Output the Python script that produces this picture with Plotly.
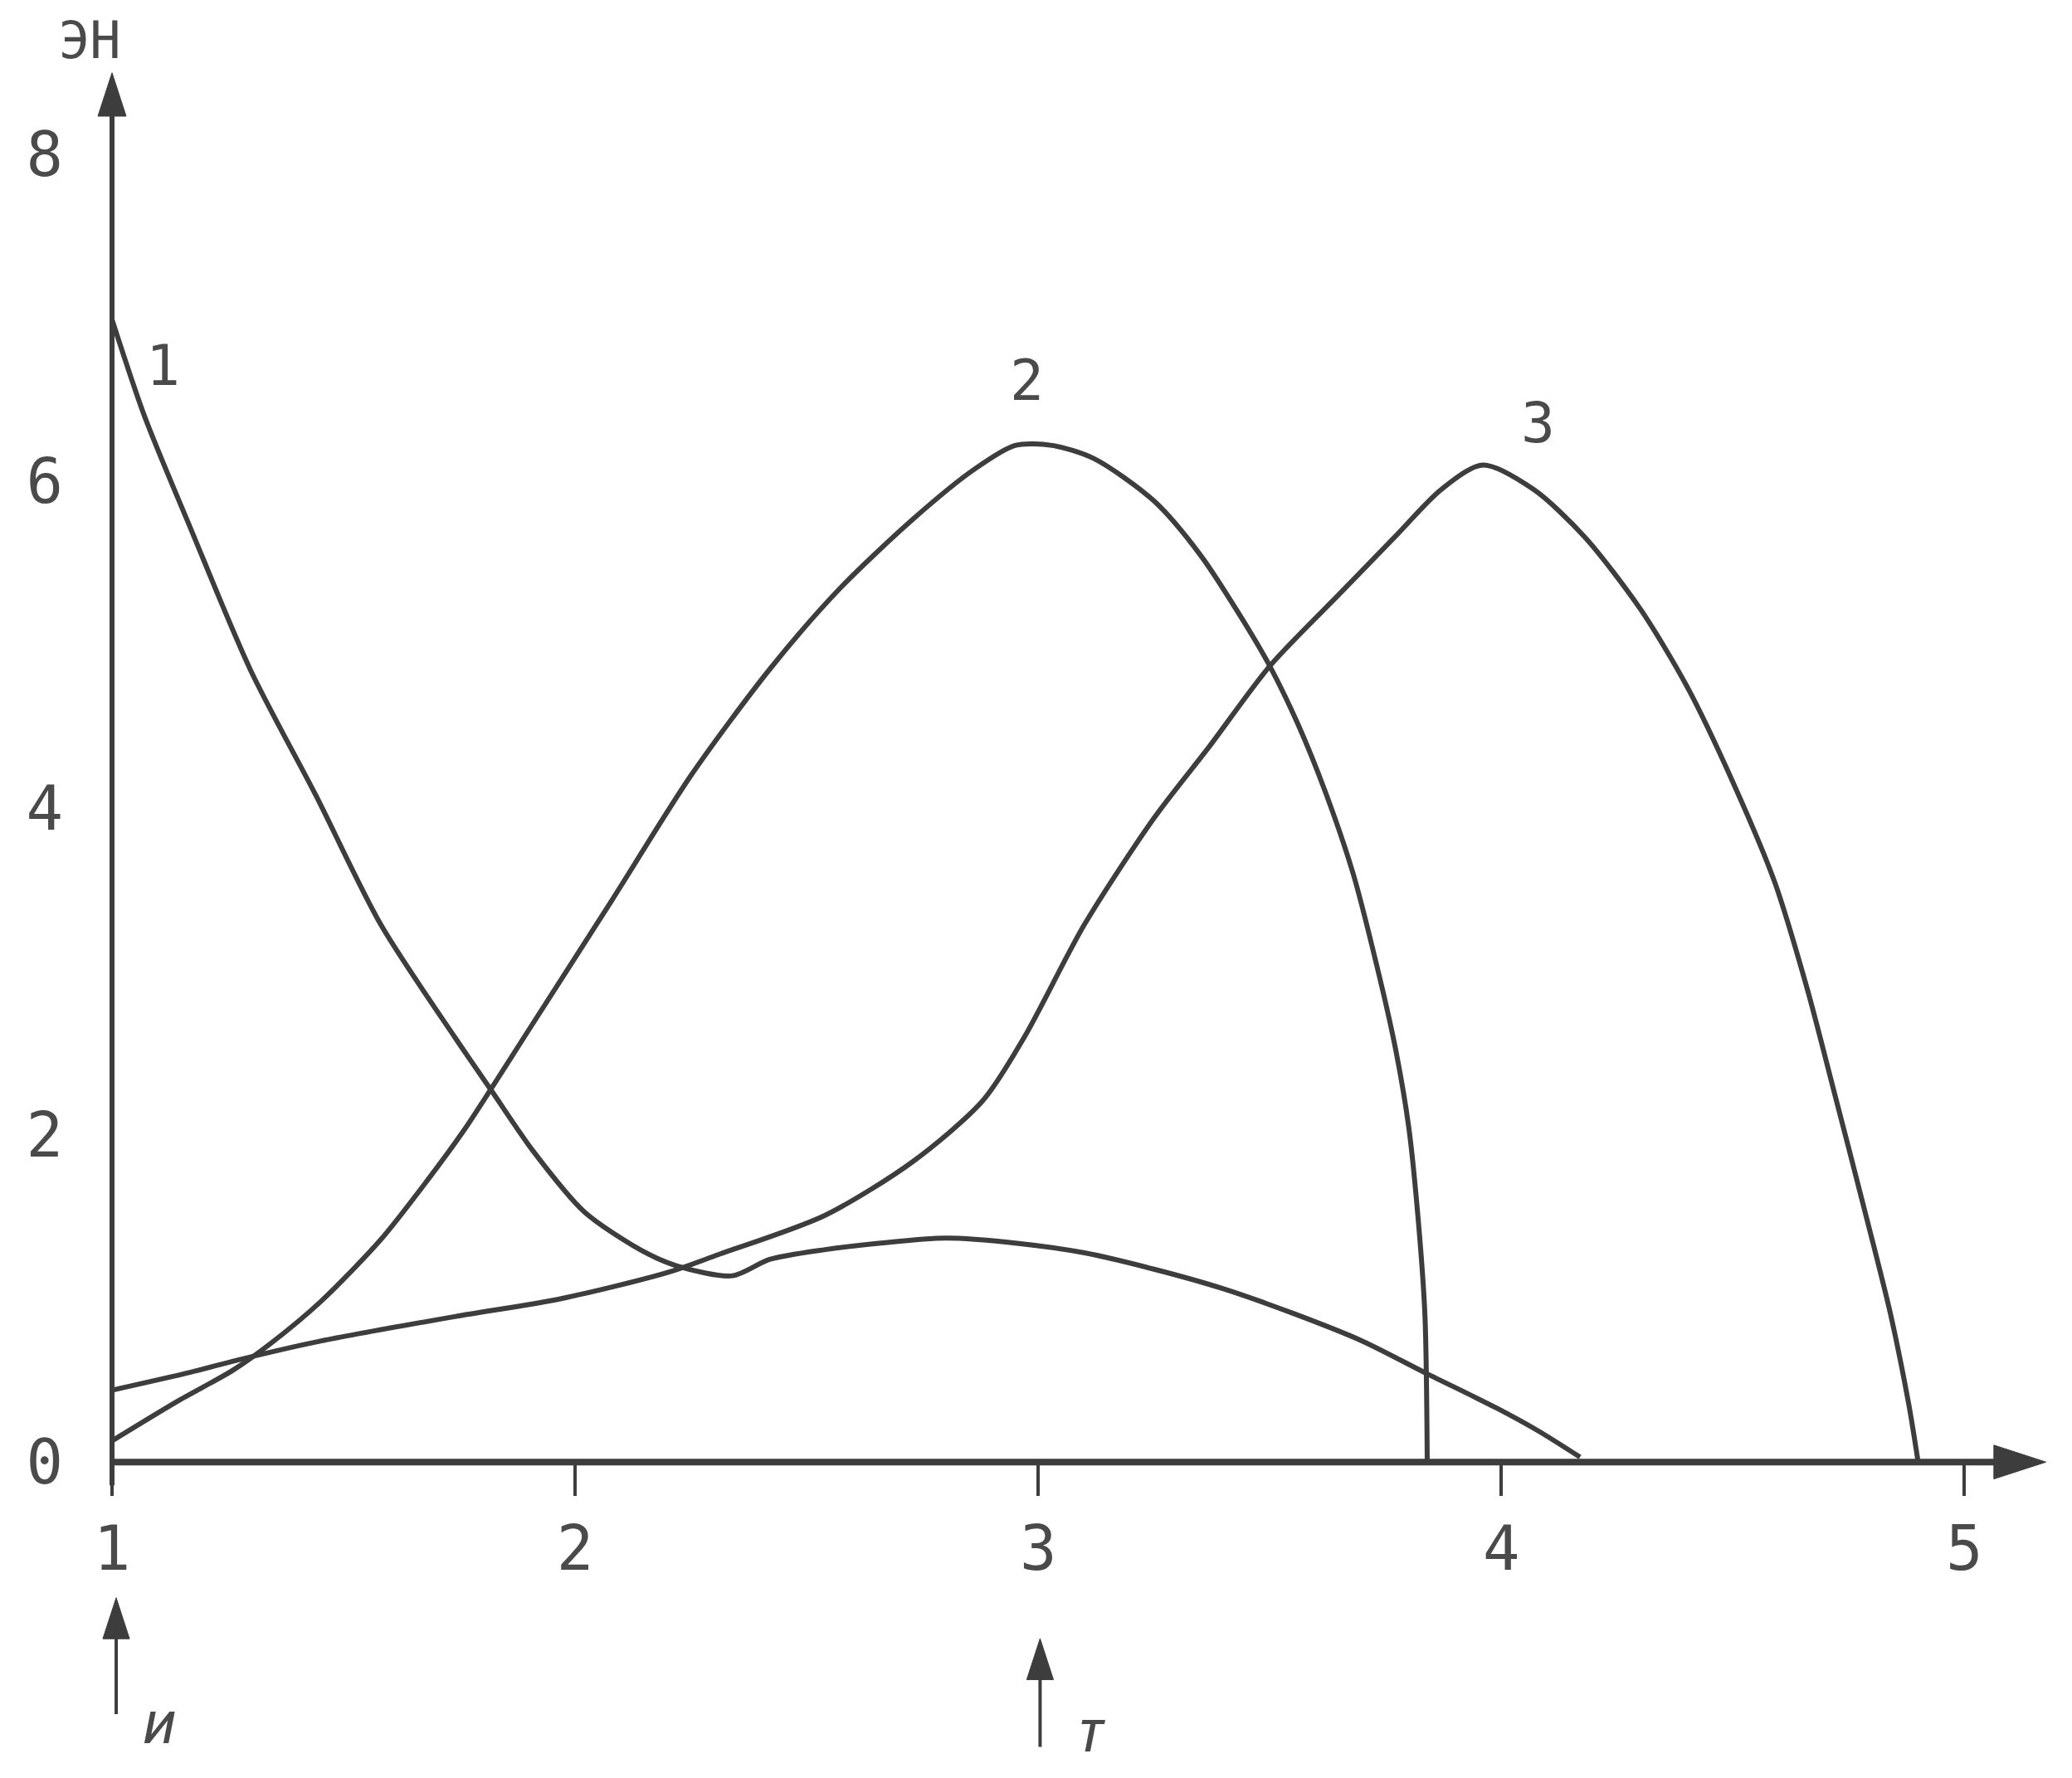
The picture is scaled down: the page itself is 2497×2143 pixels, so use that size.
import plotly.graph_objects as go

# ---------------- data ----------------
x1 = [1.00, 1.07, 1.17, 1.30, 1.44, 1.58, 1.74, 1.82, 1.91, 2.02, 2.14, 2.22, 2.34,
      2.42, 2.54, 2.66, 2.80, 2.95, 3.10, 3.25, 3.40, 3.55, 3.70, 3.84, 3.99, 4.08, 4.17]
y1 = [6.99, 6.40, 5.71, 4.84, 4.08, 3.29, 2.60, 2.27, 1.90, 1.53, 1.30, 1.20, 1.14,
      1.24, 1.30, 1.34, 1.37, 1.34, 1.28, 1.18, 1.06, 0.91, 0.74, 0.54, 0.33, 0.19, 0.03]

x2 = [1.00, 1.14, 1.26, 1.34, 1.45, 1.58, 1.68, 1.76, 1.82, 1.89, 2.08, 2.25, 2.42, 2.57,
      2.73, 2.86, 2.95, 3.03, 3.12, 3.25, 3.35, 3.44, 3.50, 3.56, 3.62, 3.68, 3.73, 3.77,
      3.80, 3.82, 3.835, 3.84]
y2 = [0.13, 0.37, 0.56, 0.72, 0.98, 1.36, 1.72, 2.03, 2.29, 2.60, 3.44, 4.20, 4.85, 5.34,
      5.77, 6.07, 6.22, 6.22, 6.14, 5.88, 5.55, 5.16, 4.87, 4.52, 4.10, 3.60, 3.05, 2.55,
      2.05, 1.50, 0.90, 0.00]

x3 = [1.00, 1.17, 1.28, 1.45, 1.74, 1.97, 2.20, 2.31, 2.54, 2.73, 2.88, 2.97, 3.10, 3.25,
      3.37, 3.50, 3.65, 3.77, 3.87, 3.96, 4.07, 4.18, 4.30, 4.40, 4.50, 4.59, 4.66, 4.72,
      4.78, 4.84, 4.88, 4.90]
y3 = [0.44, 0.55, 0.63, 0.74, 0.89, 1.00, 1.16, 1.27, 1.51, 1.84, 2.21, 2.60, 3.29, 3.94,
      4.38, 4.87, 5.31, 5.66, 5.95, 6.10, 5.95, 5.66, 5.22, 4.75, 4.16, 3.55, 2.90, 2.25,
      1.59, 0.91, 0.35, 0.00]

curve_names = ["1", "2", "3"]
curve_label_x = [1.11, 2.975, 4.08]
curve_label_y = [6.71, 6.62, 6.36]

x_ticks = [1, 2, 3, 4, 5]
y_ticks = [0, 2, 4, 6, 8]

y_title = "ЭН"
y_title_x = 0.952
y_title_y = 8.70

marker_names = ["и", "т"]
marker_x = [1.009, 3.004]
marker_tip_y = [-0.83, -1.08]
marker_tail_y = [-1.55, -1.75]
marker_label_x = [1.102, 3.113]
marker_label_y = [-1.60, -1.65]

x_axis_tip = 5.176
y_axis_tip = 8.50
y_axis_bottom = -0.15

# ---------------- layout geometry ----------------
X0, X1 = 1.0, 5.2
Y1 = 8.6
PX_X = 558.0     # pixels per x unit
PX_Y = 197.0     # pixels per y unit
W, H = 2481, 2127
ML, MT, MB = 127, 60, 0
PW = (X1 - X0) * PX_X
MR = W - ML - PW
PH = H - MT - MB
Y0 = Y1 - PH / PX_Y          # bottom of plotting range (negative)

LINE = "#3d3d3d"
TXT = "#4a4a4a"
FONT = "DejaVu Sans Mono"

fig = go.Figure()

for xs, ys in [(x1, y1), (x2, y2), (x3, y3)]:
    fig.add_trace(go.Scatter(
        x=xs, y=ys, mode="lines",
        line=dict(color=LINE, width=6, shape="spline", smoothing=0.8),
        showlegend=False, hoverinfo="skip",
    ))

head_y, head_x, head_m = 55, 66, 52


def shaft(xa, ya, xb, yb, width):
    fig.add_annotation(x=xb, y=yb, ax=xa, ay=ya, xref="x", yref="y", axref="x", ayref="y",
                       text="", showarrow=True, arrowhead=0, arrowwidth=width,
                       arrowcolor=LINE)


# axes (shafts)
shaft(X0, y_axis_bottom, X0, y_axis_tip - 0.45 * head_y * 0.95 / PX_Y, 6)
shaft(X0, 0, x_axis_tip - 0.45 * head_x * 0.95 / PX_X, 0, 8)
# arrows below the axis
for mx, tip, tail in zip(marker_x, marker_tip_y, marker_tail_y):
    shaft(mx, tail, mx, tip - 0.45 * head_m * 0.95 / PX_Y, 4)

# arrow heads
fig.add_trace(go.Scatter(
    x=[X0, x_axis_tip] + marker_x,
    y=[y_axis_tip, 0] + marker_tip_y,
    mode="markers",
    marker=dict(symbol="arrow", angle=[0, 90, 0, 0], size=[head_y, head_x, head_m, head_m],
                color=LINE, opacity=1, line=dict(width=1, color=LINE)),
    cliponaxis=False, showlegend=False, hoverinfo="skip",
))

# curve labels
for name, lx, ly in zip(curve_names, curve_label_x, curve_label_y):
    fig.add_annotation(x=lx, y=ly, xref="x", yref="y", text=name, showarrow=False,
                       xanchor="center", yanchor="middle",
                       font=dict(family=FONT, size=68, color=TXT))

# y title (above the plotting range -> domain coordinates)
fig.add_annotation(x=(y_title_x - X0) / (X1 - X0), y=(y_title_y - Y0) / (Y1 - Y0),
                   xref="x domain", yref="y domain", text=y_title, showarrow=False,
                   xanchor="center", yanchor="middle",
                   font=dict(family=FONT, size=62, color=TXT))

# labels under marker arrows
for name, lx, ly in zip(marker_names, marker_label_x, marker_label_y):
    fig.add_annotation(x=lx, y=ly, xref="x", yref="y",
                       text="<i>" + name + "</i>", showarrow=False,
                       xanchor="center", yanchor="middle",
                       font=dict(family=FONT, size=70, color=TXT))

fig.update_layout(
    width=W, height=H,
    margin=dict(l=ML, r=MR, t=MT, b=MB, pad=0),
    paper_bgcolor="white", plot_bgcolor="white",
    showlegend=False,
    xaxis=dict(range=[X0, X1], tickvals=x_ticks, ticktext=[str(v) for v in x_ticks],
               anchor="free", position=(0 - Y0) / (Y1 - Y0),
               ticks="outside", ticklen=40, tickwidth=4, tickcolor=LINE,
               showline=False, showgrid=False, zeroline=False,
               ticklabelstandoff=0,
               tickfont=dict(family=FONT, size=74, color=TXT)),
    yaxis=dict(range=[Y0, Y1], tickvals=y_ticks, ticktext=[str(v) for v in y_ticks],
               ticks="", showline=False, showgrid=False, zeroline=False,
               ticklabelstandoff=58,
               tickfont=dict(family=FONT, size=74, color=TXT)),
)

fig.write_html("out.html")
